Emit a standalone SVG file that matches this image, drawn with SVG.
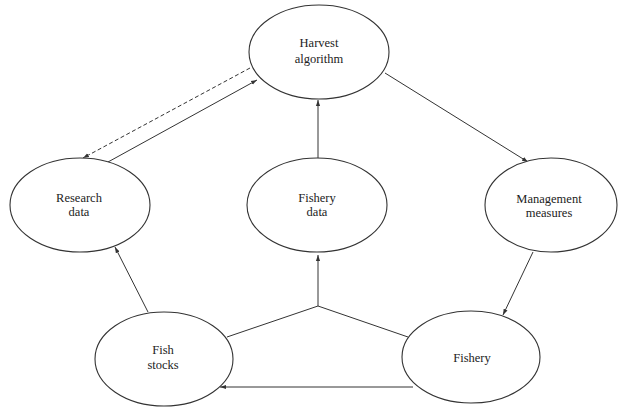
<svg xmlns="http://www.w3.org/2000/svg" width="618" height="409" viewBox="0 0 618 409">
<style>
.n{fill:#fff;stroke:#333;stroke-width:1.1}
.t{font-family:"Liberation Serif",serif;font-size:12.5px;fill:#222;text-anchor:middle}
.c{fill:none;stroke:#333;stroke-width:1}
</style>
<defs>
<marker id="a" viewBox="0 0 10 10" refX="10" refY="5" markerWidth="6" markerHeight="6" orient="auto" markerUnits="userSpaceOnUse">
<path d="M0,1.5 L10,5 L0,8.5 z" fill="#333"/>
</marker>
</defs>
<rect width="618" height="409" fill="#fff"/>
<g id="connectors">
<line class="c" x1="250" y1="68" x2="83" y2="158" stroke-dasharray="4,2.5" marker-end="url(#a)"/>
<line class="c" x1="108" y1="162" x2="257" y2="80" marker-end="url(#a)"/>
<line class="c" x1="318" y1="158" x2="318" y2="100" marker-end="url(#a)"/>
<line class="c" x1="385" y1="73" x2="528" y2="162" marker-end="url(#a)"/>
<line class="c" x1="533" y1="252" x2="503" y2="315" marker-end="url(#a)"/>
<line class="c" x1="148" y1="312" x2="115" y2="247" marker-end="url(#a)"/>
<polyline class="c" points="227,337 318,306 408,337"/>
<line class="c" x1="318" y1="306" x2="318" y2="255" marker-end="url(#a)"/>
<line class="c" x1="413" y1="387" x2="220" y2="387" marker-end="url(#a)"/>
</g>
<g id="harvest">
<ellipse class="n" cx="319" cy="52" rx="70" ry="47"/>
<text class="t" x="319" y="47">Harvest</text>
<text class="t" x="319" y="63">algorithm</text>
</g>
<g id="research">
<ellipse class="n" cx="80" cy="205" rx="70" ry="47"/>
<text class="t" x="79" y="202">Research</text>
<text class="t" x="79" y="216">data</text>
</g>
<g id="fisherydata">
<ellipse class="n" cx="317" cy="205" rx="70" ry="47"/>
<text class="t" x="317" y="202">Fishery</text>
<text class="t" x="317" y="216">data</text>
</g>
<g id="management">
<ellipse class="n" cx="551" cy="205" rx="66" ry="47"/>
<text class="t" x="549" y="203">Management</text>
<text class="t" x="549" y="217">measures</text>
</g>
<g id="fishstocks">
<ellipse class="n" cx="164" cy="359" rx="69" ry="47"/>
<text class="t" x="163" y="354">Fish</text>
<text class="t" x="163" y="369">stocks</text>
</g>
<g id="fishery">
<ellipse class="n" cx="471" cy="357" rx="69" ry="46"/>
<text class="t" x="472" y="362">Fishery</text>
</g>
</svg>
